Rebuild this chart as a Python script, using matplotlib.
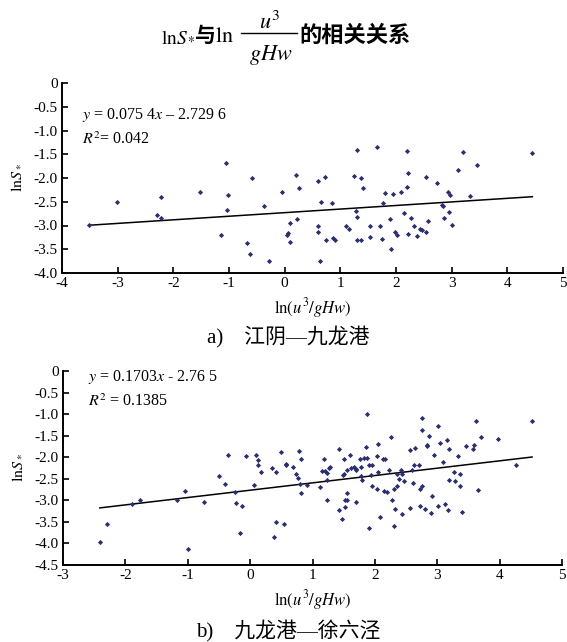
import matplotlib
matplotlib.use('Agg')
import matplotlib.pyplot as plt
from matplotlib.lines import Line2D

plt.rcParams['font.family'] = ['Liberation Serif', 'DejaVu Serif']
plt.rcParams['mathtext.fontset'] = 'stix'
plt.rcParams['axes.unicode_minus'] = False

CJK = ['Noto Sans CJK SC', 'DejaVu Sans']
SERIF_CJK = ['Liberation Serif', 'Noto Sans CJK SC']
DOT = '#2b2f6e'

# a) 江阴—九龙港
xa = [-3.52, -3.02, -2.30, -2.22, -2.22, -1.52, -1.14, -1.05, -1.02, -1.04, -0.68, -0.63,
      -0.59, -0.38, -0.29, -0.05, 0.05, 0.06, 0.10, 0.10, 0.21, 0.23, 0.25,
      0.59, 0.59, 0.60, 0.63, 0.66, 0.73, 0.75, 0.85, 0.87, 0.91, 1.11, 1.15, 1.25, 1.30,
      1.29, 1.30, 1.30, 1.37, 1.38, 1.40, 1.53, 1.53, 1.65, 1.71, 1.74, 1.76, 1.80, 1.90,
      1.91, 1.94, 1.99, 2.01, 2.09, 2.15, 2.19, 2.19, 2.22, 2.22, 2.27, 2.33, 2.38, 2.44,
      2.47, 2.53, 2.54, 2.57, 2.73, 2.82, 2.84, 2.87, 2.94, 2.96, 2.97, 3.00, 3.11, 3.21,
      3.33, 3.45, 4.45]
ya = [-2.98, -2.51, -2.77, -2.39, -2.84, -2.30, -3.21, -1.68, -2.36, -2.67, -3.36, -3.59,
      -2.01, -2.58, -3.74, -2.29, -3.21, -3.16, -3.35, -2.95, -1.93, -2.86, -2.21,
      -2.06, -3.00, -3.14, -3.75, -2.51, -1.98, -3.31, -2.53, -3.26, -3.31, -3.00, -3.07,
      -1.96, -1.42, -2.70, -2.82, -3.31, -3.31, -2.00, -2.20, -3.00, -3.24, -1.35, -3.00,
      -3.29, -2.53, -2.32, -2.86, -3.50, -2.34, -3.13, -3.19, -2.30, -2.74, -1.44, -2.18,
      -1.89, -3.18, -2.84, -3.00, -3.22, -3.07, -3.09, -3.13, -1.98, -2.91, -2.11, -2.56,
      -2.58, -2.84, -2.29, -2.72, -2.36, -2.98, -1.83, -1.46, -2.38, -1.73, -1.48]
fit_a = (0.0754, -2.7296)

# b) 九龙港—徐六泾
xb = [-2.41, -2.29, -1.90, -1.76, -1.17, -1.05, -1.00, -0.74, -0.50, -0.41, -0.36, -0.24,
      -0.22, -0.17, -0.13, -0.06, 0.06, 0.09, 0.13, 0.13, 0.18, 0.35, 0.38, 0.42, 0.42,
      0.49, 0.55, 0.57, 0.58, 0.68, 0.73, 0.78, 0.76, 0.80, 0.82, 0.82, 0.91, 1.12, 1.16,
      1.19, 1.20, 1.23, 1.24, 1.24, 1.26, 1.28, 1.43, 1.43, 1.47, 1.49, 1.51, 1.51, 1.52,
      1.52, 1.56, 1.56, 1.56, 1.60, 1.61, 1.66, 1.69, 1.69, 1.69, 1.76, 1.78, 1.77, 1.80,
      1.83, 1.85, 1.87, 1.87, 1.90, 1.91, 1.93, 1.95, 1.96, 2.03, 2.03, 2.05, 2.05, 2.09,
      2.13, 2.14, 2.16, 2.20, 2.23, 2.26, 2.27, 2.30, 2.31, 2.33, 2.35, 2.36, 2.38, 2.42,
      2.43, 2.44, 2.47, 2.56, 2.56, 2.59, 2.61, 2.63, 2.64, 2.71, 2.73, 2.75, 2.73, 2.76,
      2.76, 2.80, 2.83, 2.84, 2.86, 2.90, 2.92, 2.94, 3.01, 3.02, 3.05, 3.09, 3.12, 3.16,
      3.17, 3.19, 3.19, 3.27, 3.28, 3.34, 3.36, 3.37, 3.40, 3.46, 3.58, 3.59, 3.62, 3.65,
      3.70, 3.97, 4.27, 4.52]
yb = [-3.96, -3.56, -3.08, -2.99, -2.99, -2.79, -4.13, -3.05, -2.44, -2.62, -1.94, -2.81,
      -3.06, -3.76, -3.14, -1.98, -2.64, -1.96, -2.07, -2.18, -2.35, -2.25, -3.86, -3.51,
      -2.35, -1.88, -3.55, -2.16, -2.17, -2.22, -2.39, -1.86, -2.48, -2.63, -2.05, -2.83,
      -2.65, -2.69, -2.31, -2.05, -2.33, -2.36, -2.99, -2.52, -2.26, -2.22, -1.81, -3.23,
      -3.43, -2.42, -2.40, -2.03, -2.99, -3.16, -2.83, -2.99, -2.30, -1.95, -2.25, -2.22,
      -2.28, -2.30, -3.04, -2.03, -2.22, -2.43, -2.52, -2.01, -1.76, -2.01, -1.00, -2.17,
      -3.65, -2.42, -2.17, -2.67, -1.98, -2.73, -1.70, -2.34, -3.39, -2.04, -2.79, -2.04,
      -2.81, -2.30, -1.54, -2.99, -2.73, -3.60, -3.19, -2.38, -2.66, -2.50, -2.29, -3.31,
      -2.38, -2.55, -1.84, -3.18, -2.29, -2.60, -2.17, -1.78, -2.18, -2.73, -1.37, -3.12,
      -1.08, -2.66, -3.19, -1.74, -1.71, -1.50, -3.29, -2.89, -1.95, -1.27, -3.14, -1.66,
      -2.11, -3.08, -1.60, -3.23, -1.80, -2.52, -2.34, -2.54, -1.98, -2.40, -2.67, -3.26,
      -1.74, -1.81, -1.71, -1.17, -2.75, -1.54, -1.58, -2.18, -1.15]
fit_b = (0.1703, -2.765)

xticks_a = [-4, -3, -2, -1, 0, 1, 2, 3, 4, 5]
yticks_a = [0, -0.5, -1.0, -1.5, -2.0, -2.5, -3.0, -3.5, -4.0]
xticks_b = [-3, -2, -1, 0, 1, 2, 3, 4, 5]
yticks_b = [0, -0.5, -1.0, -1.5, -2.0, -2.5, -3.0, -3.5, -4.0, -4.5]

W, H = 567, 642
fig = plt.figure(figsize=(W / 100, H / 100), dpi=100)


def px(x, y):
    return x / W, 1 - y / H


def panel(rect, xs, ys, fit, xt, yt, eq, r2, eq_pos):
    ax = fig.add_axes(rect)
    ax.scatter(xs, ys, s=7, marker='D', color=DOT, linewidths=0, zorder=3)
    x0, x1 = min(xs), max(xs)
    ax.plot([x0, x1], [fit[0] * x0 + fit[1], fit[0] * x1 + fit[1]], color='black', lw=1.1)
    ax.set_xlim(xt[0], xt[-1])
    ax.set_ylim(yt[-1], yt[0])
    ax.set_xticks(xt)
    ax.set_xticklabels([str(v) for v in xt])
    ax.set_yticks(yt)
    ax.set_yticklabels(['0' if v == 0 else f'{v:.1f}' for v in yt])
    for s in ['top', 'right']:
        ax.spines[s].set_visible(False)
    for s in ['left', 'bottom']:
        ax.spines[s].set_linewidth(1.4)
    ax.tick_params(direction='in', length=4, width=1.2, labelsize=11, pad=3)
    ax.set_xlabel(r'$\mathrm{ln}(u^3/gHw)$', fontsize=12, labelpad=4)
    ax.set_ylabel(r'$\mathrm{ln}S_*$', fontsize=11.5, labelpad=7)
    ax.text(eq_pos[0], eq_pos[1], eq, transform=ax.transAxes, fontsize=11.5, va='center')
    ax.text(eq_pos[0], eq_pos[1] - 0.13, r2, transform=ax.transAxes, fontsize=11.5, va='center')
    return ax


panel([62 / W, 1 - 273 / H, 501 / W, 190 / H], xa, ya, fit_a, xticks_a, yticks_a,
      r'$y$ = 0.075 4$x$ – 2.729 6', r'$R^2$= 0.042', (0.04, 0.83))
panel([63 / W, 1 - 565 / H, 499 / W, 194 / H], xb, yb, fit_b, xticks_b, yticks_b,
      r'$y$ = 0.1703$x$ - 2.76 5', r'$R^2$ = 0.1385', (0.05, 0.97))

# title: lnS* 与 ln (u^3 / gHw) 的相关关系
fig.text(*px(161, 42), r'$\mathrm{ln}S_*$', fontsize=14, va='baseline')
fig.text(*px(195, 42), '与', family=CJK, fontweight='bold', fontsize=15, va='baseline')
fig.text(*px(215, 42), r'$\mathrm{ln}$', fontsize=16, va='baseline')
fig.add_artist(Line2D([241 / W, 297 / W], [1 - 33 / H, 1 - 33 / H], color='black', lw=1.0))
fig.text(*px(270, 29), r'$u^3$', fontsize=16, va='baseline', ha='center')
fig.text(*px(271, 60), r'$gHw$', fontsize=16, va='baseline', ha='center')
fig.text(*px(299, 42), '的相关关系', family=CJK, fontweight='bold', fontsize=16, va='baseline')

# captions
fig.text(*px(288, 336), 'a)    江阴—九龙港', family=SERIF_CJK, fontsize=15, ha='center', va='center')
fig.text(*px(288, 631), 'b)    九龙港—徐六泾', family=SERIF_CJK, fontsize=15, ha='center', va='center')

fig.savefig('out.png', dpi=100)
